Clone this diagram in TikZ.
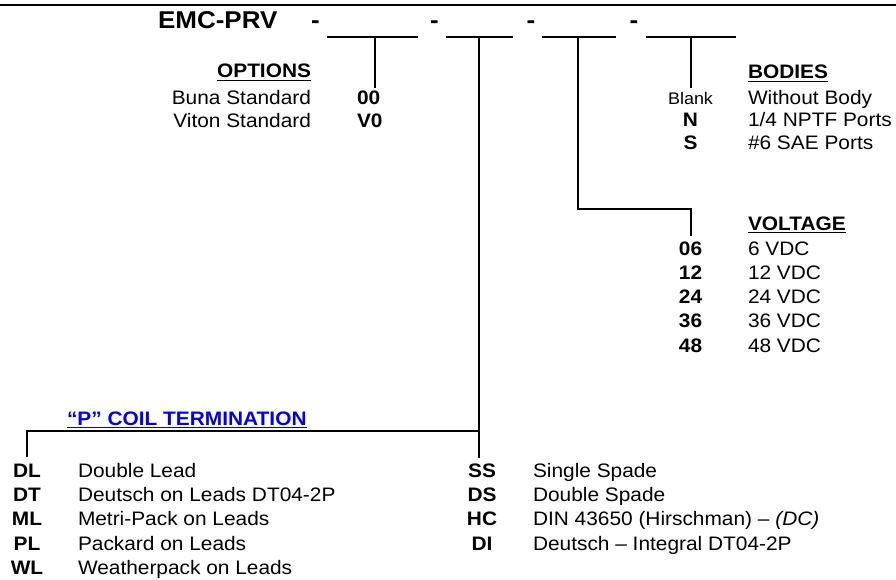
\documentclass[tikz,border=0pt]{standalone}
\usepackage{fontspec}
\setmainfont{Liberation Sans}[FakeStretch=1.07]
\definecolor{linkblue}{RGB}{0,0,238}
\tikzset{
  txt/.style={inner sep=0pt, outer sep=0pt, font=\fontsize{19.5}{23}\selectfont},
  bdtxt/.style={inner sep=0pt, outer sep=0pt, font=\fontsize{19.5}{23}\selectfont\bfseries},
  smalltxt/.style={inner sep=0pt, outer sep=0pt, font=\fontsize{16.8}{20}\selectfont},
  titletxt/.style={inner sep=0pt, outer sep=0pt, font=\fontsize{24.3}{29}\selectfont\bfseries},
  bluetxt/.style={bdtxt, text=linkblue},
  ln/.style={line width=2pt, line cap=rect},
  ulline/.style={line width=1.4pt},
}
\begin{document}
\begin{tikzpicture}[x=1pt,y=-1pt]
\useasboundingbox (0,0) rectangle (896,580);
% top rule
\coordinate (tl) at (0,5);
\coordinate (tr) at (896,5);
\draw[line width=2.4pt] (tl) -- (tr);

% title
\node[titletxt, anchor=base west] (emc) at (158,29) {EMC-PRV};
\node[titletxt, anchor=base] (d1) at (315.5,29) {-};
\node[titletxt, anchor=base] (d2) at (434.5,29) {-};
\node[titletxt, anchor=base] (d3) at (531,29) {-};
\node[titletxt, anchor=base] (d4) at (634,29) {-};

% blank fields
\coordinate (f1a) at (328,37); \coordinate (f1b) at (417,37);
\coordinate (f1m) at (375,37); \coordinate (f1e) at (375,87);
\coordinate (f2a) at (447,37); \coordinate (f2b) at (512,37);
\coordinate (f2m) at (479,37); \coordinate (f2e) at (479,457);
\coordinate (f2j) at (479,431); \coordinate (f2l) at (27,431); \coordinate (f2le) at (27,456);
\coordinate (f3a) at (543,37); \coordinate (f3b) at (615,37);
\coordinate (f3m) at (578,37); \coordinate (f3k) at (578,209);
\coordinate (f3r) at (691,209); \coordinate (f3e) at (691,235);
\coordinate (f4a) at (647,37); \coordinate (f4b) at (735,37);
\coordinate (f4m) at (691,37); \coordinate (f4e) at (691,87);

\draw[ln] (f1a) -- (f1b);
\draw[ln] (f1m) -- (f1e);
\draw[ln] (f2a) -- (f2b);
\draw[ln] (f2m) -- (f2e);
\draw[ln] (f2le) -- (f2l) -- (f2j);
\draw[ln] (f3a) -- (f3b);
\draw[ln] (f3m) -- (f3k) -- (f3r) -- (f3e);
\draw[ln] (f4a) -- (f4b);
\draw[ln] (f4m) -- (f4e);

% OPTIONS
\node[bdtxt, anchor=base east] (opth) at (311,78) {OPTIONS};
\draw[ulline] ([yshift=-2.5pt]opth.base west) -- ([yshift=-2.5pt]opth.base east);
\node[txt, anchor=base east] (o1) at (311,105) {Buna Standard};
\node[txt, anchor=base east] (o2) at (311,127.5) {Viton Standard};
\node[bdtxt, anchor=base west] (o1c) at (357,105) {00};
\node[bdtxt, anchor=base west] (o2c) at (357,127.5) {V0};

% BODIES
\node[bdtxt, anchor=base west] (bh) at (748,79) {BODIES};
\draw[ulline] ([yshift=-2.5pt]bh.base west) -- ([yshift=-2.5pt]bh.base east);
\node[smalltxt, anchor=base] (b0c) at (690.5,104.5) {Blank};
\node[txt, anchor=base west] (b0) at (748,104.5) {Without Body};
\node[bdtxt, anchor=base] (b1c) at (690.5,127) {N};
\node[txt, anchor=base west] (b1) at (748,127) {1/4 NPTF Ports};
\node[bdtxt, anchor=base] (b2c) at (690.5,149.5) {S};
\node[txt, anchor=base west] (b2) at (748,149.5) {\#6 SAE Ports};

% VOLTAGE
\node[bdtxt, anchor=base west] (vh) at (748,230) {VOLTAGE};
\draw[ulline] ([yshift=-2.5pt]vh.base west) -- ([yshift=-2.5pt]vh.base east);
\node[bdtxt, anchor=base] (v1c) at (690.5,255) {06};
\node[txt, anchor=base west] (v1) at (748,255) {6 VDC};
\node[bdtxt, anchor=base] (v2c) at (690.5,279) {12};
\node[txt, anchor=base west] (v2) at (748,279) {12 VDC};
\node[bdtxt, anchor=base] (v3c) at (690.5,303) {24};
\node[txt, anchor=base west] (v3) at (748,303) {24 VDC};
\node[bdtxt, anchor=base] (v4c) at (690.5,327.5) {36};
\node[txt, anchor=base west] (v4) at (748,327.5) {36 VDC};
\node[bdtxt, anchor=base] (v5c) at (690.5,352) {48};
\node[txt, anchor=base west] (v5) at (748,352) {48 VDC};

% COIL TERMINATION
\node[bluetxt, anchor=base west] (ph) at (67,425) {“P” COIL TERMINATION};
\draw[ulline, linkblue] ([yshift=-2.5pt]ph.base west) -- ([yshift=-2.5pt]ph.base east);

\node[bdtxt, anchor=base] (c1c) at (27,477) {DL};
\node[txt, anchor=base west] (c1) at (78,477) {Double Lead};
\node[bdtxt, anchor=base] (c2c) at (27,501) {DT};
\node[txt, anchor=base west] (c2) at (78,501) {Deutsch on Leads DT04-2P};
\node[bdtxt, anchor=base] (c3c) at (27,525.5) {ML};
\node[txt, anchor=base west] (c3) at (78,525.5) {Metri-Pack on Leads};
\node[bdtxt, anchor=base] (c4c) at (27,550) {PL};
\node[txt, anchor=base west] (c4) at (78,550) {Packard on Leads};
\node[bdtxt, anchor=base] (c5c) at (27,574.5) {WL};
\node[txt, anchor=base west] (c5) at (78,574.5) {Weatherpack on Leads};

\node[bdtxt, anchor=base] (r1c) at (482,477) {SS};
\node[txt, anchor=base west] (r1) at (533,477) {Single Spade};
\node[bdtxt, anchor=base] (r2c) at (482,501) {DS};
\node[txt, anchor=base west] (r2) at (533,501) {Double Spade};
\node[bdtxt, anchor=base] (r3c) at (482,525.5) {HC};
\node[txt, anchor=base west] (r3) at (533,525.5) {DIN 43650 (Hirschman) – \textit{(DC)}};
\node[bdtxt, anchor=base] (r4c) at (482,550) {DI};
\node[txt, anchor=base west] (r4) at (533,550) {Deutsch – Integral DT04-2P};
\end{tikzpicture}
\end{document}
